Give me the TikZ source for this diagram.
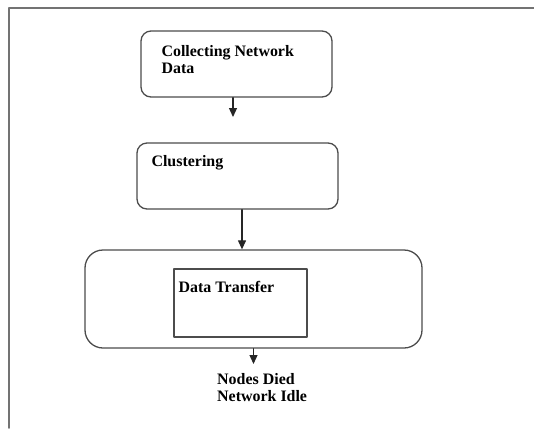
\documentclass[tikz,border=0pt]{standalone}
\usepackage{fontspec}
\setmainfont{Liberation Serif}
\usetikzlibrary{arrows.meta}

\begin{document}
\begin{tikzpicture}[x=1bp,y=-1bp,line cap=round,line join=round,
    >={Triangle[length=9bp,width=8bp]},
    every node/.style={inner sep=0pt,font=\fontsize{16}{17}\selectfont\bfseries},
    frame/.style={draw=black!55,line width=1.5bp},
    stagebox/.style={draw=black!70,line width=1.3bp,rounded corners=10bp},
    phasebox/.style={draw=black!70,line width=1.3bp,rounded corners=18bp},
    innerbox/.style={draw=black!70,line width=1.3bp},
    steptext/.style={anchor=north west,align=left},
    arr/.style={->,draw=black!85,line width=1.2bp}]
  \useasboundingbox (0,0) rectangle (534,428);
  % Rahmen
  \draw[frame] (534,8) -- (9,8) -- (9,428);
  % Kästen
  \node[stagebox,minimum width=191bp,minimum height=66bp] (collect) at (236.5,64) {};
  \node[stagebox,minimum width=201bp,minimum height=66bp] (cluster) at (237.5,176) {};
  \node[phasebox,minimum width=337bp,minimum height=98bp] (phase) at (253.5,299) {};
  \node[innerbox,minimum width=133bp,minimum height=68bp] (transfer) at (240.5,303) {};
  % Beschriftungen
  \node[steptext] (collecttxt) at ([shift={(21,15)}]collect.north west) {Collecting Network\\Data};
  \node[steptext] (clustertxt) at ([shift={(15,13)}]cluster.north west) {Clustering};
  \node[steptext] (transfertxt) at ([shift={(5,13)}]transfer.north west) {Data Transfer};
  % Pfeile
  \coordinate (a1) at (233,117);
  \coordinate (idle) at (253.5,364);
  \draw[arr] (collect.south -| a1) -- (a1);
  \draw[arr] ([xshift=4.5bp]cluster.south) -- ([xshift=4.5bp]cluster.south |- phase.north);
  \draw[arr] (phase.south) -- (idle);
  \node[steptext] (end) at (217,373) {Nodes Died\\Network Idle};
\end{tikzpicture}
\end{document}
